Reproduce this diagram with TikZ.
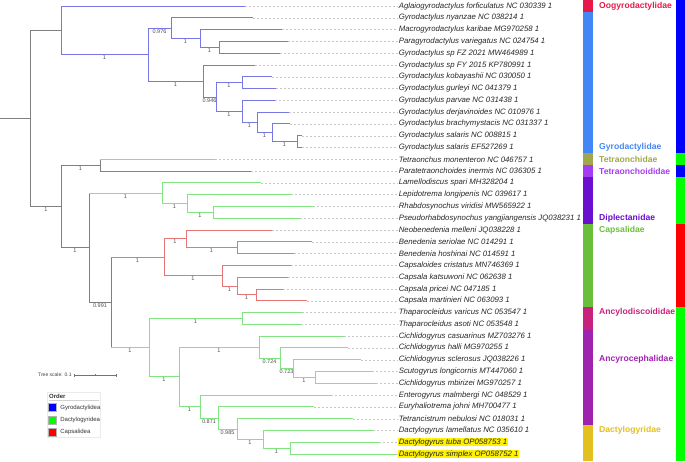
\documentclass[tikz,border=0pt]{standalone}
\usepackage{fontspec}
\setmainfont{Liberation Sans}
\usetikzlibrary{positioning}
\definecolor{treegrey}{RGB}{128, 128, 128}
\definecolor{gyroblue}{RGB}{120, 120, 228}
\definecolor{dactgreen}{RGB}{128, 228, 128}
\definecolor{capsred}{RGB}{228, 118, 118}
\definecolor{famoogyro}{RGB}{232, 23, 74}
\definecolor{famgyro}{RGB}{66, 135, 245}
\definecolor{famtetra}{RGB}{160, 168, 74}
\definecolor{famtetoid}{RGB}{164, 61, 242}
\definecolor{famdiplect}{RGB}{106, 15, 208}
\definecolor{famcaps}{RGB}{106, 191, 58}
\definecolor{famancylo}{RGB}{200, 35, 124}
\definecolor{famancyro}{RGB}{160, 35, 176}
\definecolor{famdactylo}{RGB}{226, 192, 32}
\definecolor{ordblue}{RGB}{0, 0, 255}
\definecolor{ordgreen}{RGB}{0, 255, 0}
\definecolor{ordred}{RGB}{255, 0, 0}

\begin{document}
\begin{tikzpicture}[
    x=1pt, y=-1pt,
    leaf/.style={anchor=west, inner sep=0.6pt, text=black!85, font=\fontsize{7.8}{8}\selectfont\itshape},
    hilite/.style={leaf, fill=yellow},
    boot/.style={below, inner sep=0.8pt, text=black!70, font=\fontsize{5.5}{6}\selectfont},
    famlabel/.style={anchor=west, inner sep=0pt, font=\fontsize{8.6}{9}\selectfont\bfseries},
    trunk/.style={draw=treegrey, line width=0.9pt},
    gyro/.style={draw=gyroblue, line width=0.9pt},
    dact/.style={draw=dactgreen, line width=0.9pt},
    caps/.style={draw=capsred, line width=0.9pt},
    leader/.style={draw=black!22, line width=0.4pt, dash pattern=on 1.5pt off 2.5pt},
    legsq/.style={draw=black!30, line width=0.3pt, minimum size=8pt, inner sep=0pt},
    legtext/.style={inner sep=0pt, text=black!80, font=\fontsize{6}{7}\selectfont}
]
    \useasboundingbox (0,0) rectangle (685,461);

    % leaf labels
    \node[leaf] (l1) at (398,6.0) {Aglaiogyrodactylus forficulatus NC 030339 1};
    \node[leaf] (l2) at (398,17.8) {Gyrodactylus nyanzae NC 038214 1};
    \node[leaf] (l3) at (398,29.6) {Macrogyrodactylus karibae MG970258 1};
    \node[leaf] (l4) at (398,41.4) {Paragyrodactylus variegatus NC 024754 1};
    \node[leaf] (l5) at (398,53.2) {Gyrodactylus sp FZ 2021 MW464989 1};
    \node[leaf] (l6) at (398,65.0) {Gyrodactylus sp FY 2015 KP780991 1};
    \node[leaf] (l7) at (398,76.7) {Gyrodactylus kobayashii NC 030050 1};
    \node[leaf] (l8) at (398,88.5) {Gyrodactylus gurleyi NC 041379 1};
    \node[leaf] (l9) at (398,100.3) {Gyrodactylus parvae NC 031438 1};
    \node[leaf] (l10) at (398,112.1) {Gyrodactylus derjavinoides NC 010976 1};
    \node[leaf] (l11) at (398,123.9) {Gyrodactylus brachymystacis NC 031337 1};
    \node[leaf] (l12) at (398,135.7) {Gyrodactylus salaris NC 008815 1};
    \node[leaf] (l13) at (398,147.5) {Gyrodactylus salaris EF527269 1};
    \node[leaf] (l14) at (398,159.3) {Tetraonchus monenteron NC 046757 1};
    \node[leaf] (l15) at (398,171.1) {Paratetraonchoides inermis NC 036305 1};
    \node[leaf] (l16) at (398,182.9) {Lamellodiscus spari MH328204 1};
    \node[leaf] (l17) at (398,194.6) {Lepidotrema longipenis NC 039617 1};
    \node[leaf] (l18) at (398,206.4) {Rhabdosynochus viridisi MW565922 1};
    \node[leaf] (l19) at (398,218.2) {Pseudorhabdosynochus yangjiangensis JQ038231 1};
    \node[leaf] (l20) at (398,230.0) {Neobenedenia melleni JQ038228 1};
    \node[leaf] (l21) at (398,241.8) {Benedenia seriolae NC 014291 1};
    \node[leaf] (l22) at (398,253.6) {Benedenia hoshinai NC 014591 1};
    \node[leaf] (l23) at (398,265.4) {Capsaloides cristatus MN746369 1};
    \node[leaf] (l24) at (398,277.2) {Capsala katsuwoni NC 062638 1};
    \node[leaf] (l25) at (398,289.0) {Capsala pricei NC 047185 1};
    \node[leaf] (l26) at (398,300.8) {Capsala martinieri NC 063093 1};
    \node[leaf] (l27) at (398,312.5) {Thaparocleidus varicus NC 053547 1};
    \node[leaf] (l28) at (398,324.3) {Thaparocleidus asoti NC 053548 1};
    \node[leaf] (l29) at (398,336.1) {Cichlidogyrus casuarinus MZ703276 1};
    \node[leaf] (l30) at (398,347.9) {Cichlidogyrus halli MG970255 1};
    \node[leaf] (l31) at (398,359.7) {Cichlidogyrus sclerosus JQ038226 1};
    \node[leaf] (l32) at (398,371.5) {Scutogyrus longicornis MT447060 1};
    \node[leaf] (l33) at (398,383.3) {Cichlidogyrus mbirizei MG970257 1};
    \node[leaf] (l34) at (398,395.1) {Enterogyrus malmbergi NC 048529 1};
    \node[leaf] (l35) at (398,406.9) {Euryhaliotrema johni MH700477 1};
    \node[leaf] (l36) at (398,418.7) {Tetrancistrum nebulosi NC 018031 1};
    \node[leaf] (l37) at (398,430.5) {Dactylogyrus lamellatus NC 035610 1};
    \node[hilite] (l38) at (398,442.2) {Dactylogyrus tuba OP058753 1};
    \node[hilite] (l39) at (398,454.0) {Dactylogyrus simplex OP058752 1};

    % branch tips
    \coordinate (t1) at (245,6.0);   \coordinate (t2) at (253,17.8);
    \coordinate (t3) at (282,29.6);  \coordinate (t4) at (288,41.4);
    \coordinate (t5) at (280,53.2);  \coordinate (t6) at (255,65.0);
    \coordinate (t7) at (272,76.7);  \coordinate (t8) at (276,88.5);
    \coordinate (t9) at (275,100.3); \coordinate (t10) at (289,112.1);
    \coordinate (t11) at (290,123.9); \coordinate (t12) at (302,135.7);
    \coordinate (t13) at (302,147.5); \coordinate (t14) at (215,159.3);
    \coordinate (t15) at (251,171.1); \coordinate (t16) at (261,182.9);
    \coordinate (t17) at (291,194.6); \coordinate (t18) at (313,206.4);
    \coordinate (t19) at (300,218.2); \coordinate (t20) at (272,230.0);
    \coordinate (t21) at (312,241.8); \coordinate (t22) at (294,253.6);
    \coordinate (t23) at (291,265.4); \coordinate (t24) at (288,277.2);
    \coordinate (t25) at (283,289.0); \coordinate (t26) at (307,300.8);
    \coordinate (t27) at (302,312.5); \coordinate (t28) at (301,324.3);
    \coordinate (t29) at (344,336.1); \coordinate (t30) at (348,347.9);
    \coordinate (t31) at (361,359.7); \coordinate (t32) at (372,371.5);
    \coordinate (t33) at (376,383.3); \coordinate (t34) at (331,395.1);
    \coordinate (t35) at (314,406.9); \coordinate (t36) at (353,418.7);
    \coordinate (t37) at (373,430.5); \coordinate (t38) at (379,442.2);
    \coordinate (t39) at (396,454.0);

    \foreach \i in {1,...,39}
        \draw[leader] (t\i) -- (l\i.west);

    % inner nodes
    \coordinate (stem) at (0,118.4);    \coordinate (root) at (30.7,118.4);
    \coordinate (ngyro) at (61,30.3);   \coordinate (ng1) at (148,54.55);
    \coordinate (ng2) at (171,28.1);    \coordinate (ng3) at (200,38.45);
    \coordinate (ng4) at (219,47.3);    \coordinate (ng5) at (203,81);
    \coordinate (ng6) at (216,97);      \coordinate (ng7) at (242,82.6);
    \coordinate (ng8) at (242,111.35);  \coordinate (ng9) at (257,122.4);
    \coordinate (ng10) at (272,132.75); \coordinate (ng11) at (297,141.6);
    \coordinate (nb) at (61,206.5);     \coordinate (ntet) at (100,165.2);
    \coordinate (nd) at (89,247.8);     \coordinate (ndip) at (162,193.2);
    \coordinate (ndip2) at (187,203.45); \coordinate (ndip3) at (213,212.3);
    \coordinate (ncd) at (111,302.45);  \coordinate (ncap) at (164,257.3);
    \coordinate (ncap1) at (186,238.85); \coordinate (ncap2) at (237,247.7);
    \coordinate (ncap3) at (222,275.7); \coordinate (ncap4) at (237,286.05);
    \coordinate (ncap5) at (256,294.9); \coordinate (ndact) at (149,347.6);
    \coordinate (nthap) at (242,318.4); \coordinate (nanc) at (179,376.8);
    \coordinate (ncich1) at (259,347.15); \coordinate (ncich2) at (280,358.2);
    \coordinate (ncich3) at (293,368.55); \coordinate (ncich4) at (315,377.4);
    \coordinate (ndac1) at (200,406.5); \coordinate (ndac2) at (218,417.95);
    \coordinate (ndac3) at (237,429);   \coordinate (ndac4) at (263,439.3);
    \coordinate (ndac5) at (290,448.1);

    % backbone
    \draw[trunk] (stem) -- (root);
    \draw[trunk] (root) |- (ngyro);
    \draw[trunk] (root) |- node[boot, pos=0.75] {1} (nb);
    \draw[trunk] (nb) |- node[boot, pos=0.75] {1} (ntet);
    \draw[trunk] (nb) |- node[boot, pos=0.75] {1} (nd);
    \draw[trunk] (nd) |- node[boot, pos=0.75] {0.991} (ncd);
    \draw[trunk] (nd) -- (nd |- ndip);
    \draw[trunk] (ncd) -- (ncd |- ncap);
    \draw[trunk] (ncd) -- (ncd |- ndact);
    \draw[trunk] (ntet |- t14) -- (ntet |- t15);

    % Gyrodactylidea
    \draw[gyro] (ngyro) |- (t1);
    \draw[gyro] (ngyro) |- node[boot, pos=0.75] {1} (ng1);
    \draw[gyro] (ng1) |- node[boot, pos=0.75] {0.976} (ng2);
    \draw[gyro] (ng2) |- (t2);
    \draw[gyro] (ng2) |- node[boot, pos=0.75] {1} (ng3);
    \draw[gyro] (ng3) |- (t3);
    \draw[gyro] (ng3) |- node[boot, pos=0.75] {1} (ng4);
    \draw[gyro] (ng4) |- (t4);
    \draw[gyro] (ng4) |- (t5);
    \draw[gyro] (ng1) |- node[boot, pos=0.75] {1} (ng5);
    \draw[gyro] (ng5) |- (t6);
    \draw[gyro] (ng5) |- node[boot, pos=0.75] {0.946} (ng6);
    \draw[gyro] (ng6) |- node[boot, pos=0.75] {1} (ng7);
    \draw[gyro] (ng7) |- (t7);
    \draw[gyro] (ng7) |- (t8);
    \draw[gyro] (ng6) |- node[boot, pos=0.75] {1} (ng8);
    \draw[gyro] (ng8) |- (t9);
    \draw[gyro] (ng8) |- node[boot, pos=0.75] {1} (ng9);
    \draw[gyro] (ng9) |- (t10);
    \draw[gyro] (ng9) |- node[boot, pos=0.75] {1} (ng10);
    \draw[gyro] (ng10) |- (t11);
    \draw[gyro] (ng10) |- node[boot, pos=0.75] {1} (ng11);
    \draw[gyro] (ng11) |- (t12);
    \draw[gyro] (ng11) |- (t13);

    % Tetraonchidae / Tetraonchoididae
    \draw[dact] (ntet |- t14) -- (t14);
    \draw[gyro] (ntet |- t15) -- (t15);

    % Diplectanidae
    \draw[dact] (nd |- ndip) -- node[boot] {1} (ndip);
    \draw[dact] (ndip) |- (t16);
    \draw[dact] (ndip) |- node[boot, pos=0.75] {1} (ndip2);
    \draw[dact] (ndip2) |- (t17);
    \draw[dact] (ndip2) |- node[boot, pos=0.75] {1} (ndip3);
    \draw[dact] (ndip3) |- (t18);
    \draw[dact] (ndip3) |- (t19);

    % Capsalidae
    \draw[caps] (ncd |- ncap) -- node[boot] {1} (ncap);
    \draw[caps] (ncap) |- node[boot, pos=0.75] {1} (ncap1);
    \draw[caps] (ncap1) |- (t20);
    \draw[caps] (ncap1) |- node[boot, pos=0.75] {1} (ncap2);
    \draw[caps] (ncap2) |- (t21);
    \draw[caps] (ncap2) |- (t22);
    \draw[caps] (ncap) |- node[boot, pos=0.75] {1} (ncap3);
    \draw[caps] (ncap3) |- (t23);
    \draw[caps] (ncap3) |- node[boot, pos=0.75] {1} (ncap4);
    \draw[caps] (ncap4) |- (t24);
    \draw[caps] (ncap4) |- node[boot, pos=0.75] {1} (ncap5);
    \draw[caps] (ncap5) |- (t25);
    \draw[caps] (ncap5) |- (t26);

    % Dactylogyridea
    \draw[dact] (ncd |- ndact) -- node[boot] {1} (ndact);
    \draw[dact] (ndact) |- node[boot, pos=0.75] {1} (nthap);
    \draw[dact] (nthap) |- (t27);
    \draw[dact] (nthap) |- (t28);
    \draw[dact] (ndact) |- node[boot, pos=0.75] {1} (nanc);
    \draw[dact] (nanc) |- node[boot, pos=0.75] {1} (ncich1);
    \draw[dact] (ncich1) |- (t29);
    \draw[dact] (ncich1) |- node[boot, pos=0.75] {0.724} (ncich2);
    \draw[dact] (ncich2) |- (t30);
    \draw[dact] (ncich2) |- node[boot, pos=0.75] {0.723} (ncich3);
    \draw[dact] (ncich3) |- (t31);
    \draw[dact] (ncich3) |- node[boot, pos=0.75] {1} (ncich4);
    \draw[dact] (ncich4) |- (t32);
    \draw[dact] (ncich4) |- (t33);
    \draw[dact] (nanc) |- node[boot, pos=0.75] {1} (ndac1);
    \draw[dact] (ndac1) |- (t34);
    \draw[dact] (ndac1) |- node[boot, pos=0.75] {0.871} (ndac2);
    \draw[dact] (ndac2) |- (t35);
    \draw[dact] (ndac2) |- node[boot, pos=0.75] {0.985} (ndac3);
    \draw[dact] (ndac3) |- (t36);
    \draw[dact] (ndac3) |- node[boot, pos=0.75] {1} (ndac4);
    \draw[dact] (ndac4) |- (t37);
    \draw[dact] (ndac4) |- node[boot, pos=0.75] {1} (ndac5);
    \draw[dact] (ndac5) |- (t38);
    \draw[dact] (ndac5) |- (t39);

    % family strip
    \fill[famoogyro] (583,0) rectangle (593,11.9);
    \fill[famgyro] (583,11.9) rectangle (593,153.4);
    \fill[famtetra] (583,153.4) rectangle (593,165.2);
    \fill[famtetoid] (583,165.2) rectangle (593,177);
    \fill[famdiplect] (583,177) rectangle (593,224.1);
    \fill[famcaps] (583,224.1) rectangle (593,306.7);
    \fill[famancylo] (583,306.7) rectangle (593,330.4);
    \fill[famancyro] (583,330.4) rectangle (593,424.6);
    \fill[famdactylo] (583,424.6) rectangle (593,461);

    \node[famlabel, text=famoogyro] (foogyro) at (599,6.0) {Oogyrodactylidae};
    \node[famlabel, text=famgyro] (fgyro) at (599,147.5) {Gyrodactylidae};
    \node[famlabel, text=famtetra] (ftetra) at (599,159.3) {Tetraonchidae};
    \node[famlabel, text=famtetoid] (ftetoid) at (599,171.1) {Tetraonchoididae};
    \node[famlabel, text=famdiplect] (fdiplect) at (599,218.2) {Diplectanidae};
    \node[famlabel, text=famcaps] (fcaps) at (599,230.0) {Capsalidae};
    \node[famlabel, text=famancylo] (fancylo) at (599,312.5) {Ancylodiscoididae};
    \node[famlabel, text=famancyro] (fancyro) at (599,359.7) {Ancyrocephalidae};
    \node[famlabel, text=famdactylo] (fdactylo) at (599,430.5) {Dactylogyridae};

    % order strip
    \fill[ordblue] (676,0) rectangle (685,153.4);
    \fill[ordgreen] (676,153.4) rectangle (685,165.2);
    \fill[ordblue] (676,165.2) rectangle (685,177);
    \fill[ordgreen] (676,177) rectangle (685,224.1);
    \fill[ordred] (676,224.1) rectangle (685,306.7);
    \fill[ordgreen] (676,306.7) rectangle (685,461);

    % tree scale
    \node[anchor=west, inner sep=0pt, text=black!75, font=\fontsize{5}{6}\selectfont] (scale) at (38,375) {Tree scale: 0.1};
    \coordinate (sb0) at (74,375);
    \coordinate (sb1) at (116,375);
    \coordinate (sbm) at (95,375);
    \draw[black!55, line width=0.5pt] (sb0) -- (sb1);
    \draw[black!55, line width=0.5pt] (sb0) ++(0,-1.5) -- ++(0,3);
    \draw[black!55, line width=0.5pt] (sbm) ++(0,-1) -- ++(0,2);
    \draw[black!55, line width=0.5pt] (sb1) ++(0,-1.5) -- ++(0,3);

    % legend
    \draw[black!8, fill=white] (47,392) rectangle (100,437);
    \node[legtext, anchor=west, font=\fontsize{6}{7}\selectfont\bfseries] (order) at (49,396) {Order};
    \draw[black!18, line width=1.2pt] (48.5,400.8) -- (99,400.8);
    \node[legsq, fill=ordblue] (kgyro) at (52,407.5) {};
    \node[legsq, fill=ordgreen] (kdact) at (52,419.8) {};
    \node[legsq, fill=ordred] (kcaps) at (52,431.8) {};
    \node[legtext, right=4pt of kgyro] {Gyrodactylidea};
    \node[legtext, right=4pt of kdact] {Dactylogyridea};
    \node[legtext, right=4pt of kcaps] {Capsalidea};
\end{tikzpicture}
\end{document}
